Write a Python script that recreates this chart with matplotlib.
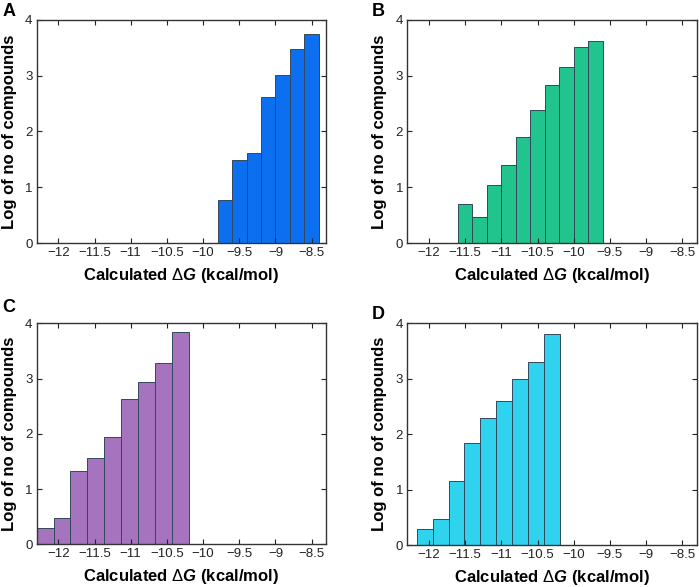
import numpy as np
import matplotlib
matplotlib.use("Agg")
from matplotlib import pyplot as plt

plt.rcParams['font.family'] = ['Liberation Sans', 'DejaVu Sans']
plt.rcParams['mathtext.fontset'] = 'custom'
plt.rcParams['mathtext.rm'] = 'Liberation Sans'
plt.rcParams['mathtext.it'] = 'Liberation Sans:italic:bold'
plt.rcParams['mathtext.bf'] = 'Liberation Sans:bold'

# histogram data: bin range and log10 counts per bin
panels = ["A", "B", "C", "D"]
bin_start = [-9.8, -11.6, -12.3, -12.17]
bin_end = [-8.4, -9.6, -10.2, -10.19]
heights_a = [0.77, 1.49, 1.61, 2.61, 3.01, 3.48, 3.74]
heights_b = [0.70, 0.47, 1.04, 1.40, 1.91, 2.39, 2.83, 3.16, 3.52, 3.62]
heights_c = [0.29, 0.47, 1.33, 1.57, 1.95, 2.63, 2.93, 3.29, 3.84]
heights_d = [0.30, 0.47, 1.15, 1.85, 2.29, 2.60, 2.99, 3.31, 3.81]
heights = [heights_a, heights_b, heights_c, heights_d]
colors = ["#0b6ff0", "#21c48d", "#a673bf", "#2fd3ee"]

xticks = [-12, -11.5, -11, -10.5, -10, -9.5, -9, -8.5]
xtick_labels = ["\u221212", "\u221211.5", "\u221211", "\u221210.5", "\u221210",
                "\u22129.5", "\u22129", "\u22128.5"]
yticks = [0, 1, 2, 3, 4]

fig = plt.figure(figsize=(6.99, 5.87), dpi=100)

# axes boxes [left, bottom, width, height] in figure fractions
boxes = [
    [0.0525, 0.586, 0.414, 0.380],
    [0.5827, 0.586, 0.414, 0.380],
    [0.0525, 0.0727, 0.414, 0.3765],
    [0.5827, 0.0713, 0.414, 0.3780],
]
letter_pos = [(0.003, 0.995), (0.532, 0.995), (0.003, 0.490), (0.532, 0.478)]

for i in range(4):
    ax = fig.add_axes(boxes[i])
    h = heights[i]
    edges = np.linspace(bin_start[i], bin_end[i], len(h) + 1)
    ax.bar(edges[:-1], h, width=np.diff(edges), align='edge',
           color=colors[i], edgecolor='#34485a', linewidth=0.7)
    ax.set_xlim(-12.3, -8.3)
    ax.set_ylim(0, 4)
    ax.set_xticks(xticks)
    ax.set_xticklabels(xtick_labels)
    ax.set_yticks(yticks)
    ax.tick_params(direction='in', top=True, right=True, length=3.5,
                   width=0.8, labelsize=9.5, pad=3, colors='#222222')
    for s in ax.spines.values():
        s.set_linewidth(1.0)
        s.set_color('#333333')
    ax.set_xlabel(r'Calculated $\Delta$$G$ (kcal/mol)', fontsize=12,
                  fontweight='bold', labelpad=5)
    ax.set_ylabel('Log of no of compounds', fontsize=12, fontweight='bold',
                  labelpad=6)
    fig.text(letter_pos[i][0], letter_pos[i][1], panels[i], fontsize=13,
             fontweight='bold', ha='left', va='top')

fig.savefig("out.png", dpi=100)
